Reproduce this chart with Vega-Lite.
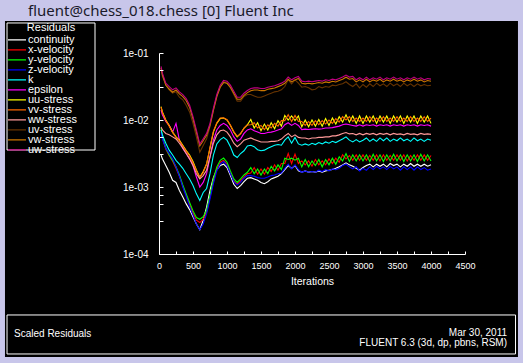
{
"$schema":"https://vega.github.io/schema/vega-lite/v6.json",
"width":306,"height":201,
"autosize":{"type":"none"},
"padding":{"left":159,"top":53,"right":58,"bottom":109},
"background":"#c8c6ea",
"resolve":{"axis":{"x":"independent","y":"independent"}},
"config":{
 "view":{"stroke":null},
 "axis":{"domainColor":"#ffffff","tickColor":"#ffffff","labelColor":"#ffffff","titleColor":"#ffffff","grid":false,"labelFont":"Liberation Sans","titleFont":"Liberation Sans","titleFontWeight":"normal"},
 "text":{"font":"Liberation Sans","color":"#ffffff"}
},
"data":{"values":[
{"s":"continuity","i":30,"r":0.0030},{"s":"continuity","i":50,"r":0.00263},{"s":"continuity","i":100,"r":0.00209},{"s":"continuity","i":150,"r":0.00166},{"s":"continuity","i":200,"r":0.00126},{"s":"continuity","i":250,"r":0.00117},{"s":"continuity","i":300,"r":0.00089},{"s":"continuity","i":350,"r":0.00071},{"s":"continuity","i":400,"r":0.00056},{"s":"continuity","i":450,"r":0.00046},{"s":"continuity","i":500,"r":0.00036},{"s":"continuity","i":550,"r":0.00028},{"s":"continuity","i":600,"r":0.00023},{"s":"continuity","i":650,"r":0.00032},{"s":"continuity","i":700,"r":0.0005},{"s":"continuity","i":750,"r":0.00089},{"s":"continuity","i":800,"r":0.00138},{"s":"continuity","i":850,"r":0.00182},{"s":"continuity","i":900,"r":0.00209},{"s":"continuity","i":950,"r":0.00219},{"s":"continuity","i":1000,"r":0.00195},{"s":"continuity","i":1050,"r":0.00148},{"s":"continuity","i":1100,"r":0.0011},{"s":"continuity","i":1150,"r":0.00095},{"s":"continuity","i":1200,"r":0.00105},{"s":"continuity","i":1250,"r":0.0012},{"s":"continuity","i":1300,"r":0.00135},{"s":"continuity","i":1350,"r":0.00138},{"s":"continuity","i":1400,"r":0.00132},{"s":"continuity","i":1450,"r":0.00126},{"s":"continuity","i":1500,"r":0.00117},{"s":"continuity","i":1550,"r":0.00112},{"s":"continuity","i":1600,"r":0.0012},{"s":"continuity","i":1650,"r":0.00132},{"s":"continuity","i":1700,"r":0.00138},{"s":"continuity","i":1750,"r":0.00145},{"s":"continuity","i":1800,"r":0.00158},{"s":"continuity","i":1850,"r":0.00182},{"s":"continuity","i":1900,"r":0.00209},{"s":"continuity","i":1950,"r":0.0019},{"s":"continuity","i":2000,"r":0.00209},{"s":"continuity","i":2050,"r":0.00174},{"s":"continuity","i":2100,"r":0.00166},{"s":"continuity","i":2150,"r":0.00174},{"s":"continuity","i":2200,"r":0.00166},{"s":"continuity","i":2250,"r":0.0017},{"s":"continuity","i":2300,"r":0.00166},{"s":"continuity","i":2350,"r":0.00174},{"s":"continuity","i":2400,"r":0.00166},{"s":"continuity","i":2450,"r":0.00174},{"s":"continuity","i":2500,"r":0.00178},{"s":"continuity","i":2550,"r":0.00182},{"s":"continuity","i":2600,"r":0.0019},{"s":"continuity","i":2650,"r":0.002},{"s":"continuity","i":2700,"r":0.00214},{"s":"continuity","i":2750,"r":0.00229},{"s":"continuity","i":2800,"r":0.00214},{"s":"continuity","i":2850,"r":0.00204},{"s":"continuity","i":2900,"r":0.0019},{"s":"continuity","i":2950,"r":0.00178},{"s":"continuity","i":3000,"r":0.00195},{"s":"continuity","i":3050,"r":0.00209},{"s":"continuity","i":3100,"r":0.00219},{"s":"continuity","i":3150,"r":0.002},{"s":"continuity","i":3200,"r":0.00219},{"s":"continuity","i":3250,"r":0.00204},{"s":"continuity","i":3300,"r":0.00219},{"s":"continuity","i":3350,"r":0.002},{"s":"continuity","i":3400,"r":0.00224},{"s":"continuity","i":3450,"r":0.00209},{"s":"continuity","i":3500,"r":0.00219},{"s":"continuity","i":3550,"r":0.002},{"s":"continuity","i":3600,"r":0.00219},{"s":"continuity","i":3650,"r":0.00204},{"s":"continuity","i":3700,"r":0.00224},{"s":"continuity","i":3750,"r":0.00204},{"s":"continuity","i":3800,"r":0.00219},{"s":"continuity","i":3850,"r":0.00204},{"s":"continuity","i":3900,"r":0.00219},{"s":"continuity","i":3950,"r":0.00204},{"s":"continuity","i":4000,"r":0.00214},
{"s":"x-velocity","i":30,"r":0.0071},{"s":"x-velocity","i":50,"r":0.0054},{"s":"x-velocity","i":100,"r":0.0037},{"s":"x-velocity","i":150,"r":0.00295},{"s":"x-velocity","i":200,"r":0.00245},{"s":"x-velocity","i":250,"r":0.0019},{"s":"x-velocity","i":300,"r":0.00145},{"s":"x-velocity","i":350,"r":0.00102},{"s":"x-velocity","i":400,"r":0.00076},{"s":"x-velocity","i":450,"r":0.00055},{"s":"x-velocity","i":500,"r":0.00041},{"s":"x-velocity","i":550,"r":0.00032},{"s":"x-velocity","i":600,"r":0.000295},{"s":"x-velocity","i":650,"r":0.00033},{"s":"x-velocity","i":700,"r":0.00042},{"s":"x-velocity","i":750,"r":0.00071},{"s":"x-velocity","i":800,"r":0.00123},{"s":"x-velocity","i":850,"r":0.00186},{"s":"x-velocity","i":900,"r":0.00234},{"s":"x-velocity","i":950,"r":0.0025},{"s":"x-velocity","i":1000,"r":0.00219},{"s":"x-velocity","i":1050,"r":0.00162},{"s":"x-velocity","i":1100,"r":0.00123},{"s":"x-velocity","i":1150,"r":0.0011},{"s":"x-velocity","i":1200,"r":0.00123},{"s":"x-velocity","i":1250,"r":0.00141},{"s":"x-velocity","i":1300,"r":0.00158},{"s":"x-velocity","i":1350,"r":0.00162},{"s":"x-velocity","i":1400,"r":0.00195},{"s":"x-velocity","i":1450,"r":0.00155},{"s":"x-velocity","i":1500,"r":0.00186},{"s":"x-velocity","i":1550,"r":0.00155},{"s":"x-velocity","i":1600,"r":0.00195},{"s":"x-velocity","i":1650,"r":0.0017},{"s":"x-velocity","i":1700,"r":0.00214},{"s":"x-velocity","i":1750,"r":0.00178},{"s":"x-velocity","i":1800,"r":0.00224},{"s":"x-velocity","i":1850,"r":0.00224},{"s":"x-velocity","i":1900,"r":0.00316},{"s":"x-velocity","i":1950,"r":0.00224},{"s":"x-velocity","i":2000,"r":0.0031},{"s":"x-velocity","i":2050,"r":0.00224},{"s":"x-velocity","i":2100,"r":0.00245},{"s":"x-velocity","i":2150,"r":0.00214},{"s":"x-velocity","i":2200,"r":0.00245},{"s":"x-velocity","i":2250,"r":0.00204},{"s":"x-velocity","i":2300,"r":0.00257},{"s":"x-velocity","i":2350,"r":0.00214},{"s":"x-velocity","i":2400,"r":0.00245},{"s":"x-velocity","i":2450,"r":0.00214},{"s":"x-velocity","i":2500,"r":0.00263},{"s":"x-velocity","i":2550,"r":0.00224},{"s":"x-velocity","i":2600,"r":0.00269},{"s":"x-velocity","i":2650,"r":0.00234},{"s":"x-velocity","i":2700,"r":0.00302},{"s":"x-velocity","i":2750,"r":0.00263},{"s":"x-velocity","i":2800,"r":0.00295},{"s":"x-velocity","i":2850,"r":0.00251},{"s":"x-velocity","i":2900,"r":0.00302},{"s":"x-velocity","i":2950,"r":0.00251},{"s":"x-velocity","i":3000,"r":0.00302},{"s":"x-velocity","i":3050,"r":0.00251},{"s":"x-velocity","i":3100,"r":0.00295},{"s":"x-velocity","i":3150,"r":0.00251},{"s":"x-velocity","i":3200,"r":0.00302},{"s":"x-velocity","i":3250,"r":0.00245},{"s":"x-velocity","i":3300,"r":0.00302},{"s":"x-velocity","i":3350,"r":0.00251},{"s":"x-velocity","i":3400,"r":0.00295},{"s":"x-velocity","i":3450,"r":0.00251},{"s":"x-velocity","i":3500,"r":0.00302},{"s":"x-velocity","i":3550,"r":0.00251},{"s":"x-velocity","i":3600,"r":0.00302},{"s":"x-velocity","i":3650,"r":0.00245},{"s":"x-velocity","i":3700,"r":0.00295},{"s":"x-velocity","i":3750,"r":0.00251},{"s":"x-velocity","i":3800,"r":0.00302},{"s":"x-velocity","i":3850,"r":0.00251},{"s":"x-velocity","i":3900,"r":0.00302},{"s":"x-velocity","i":3950,"r":0.00251},{"s":"x-velocity","i":4000,"r":0.00295},
{"s":"y-velocity","i":30,"r":0.0076},{"s":"y-velocity","i":50,"r":0.0056},{"s":"y-velocity","i":100,"r":0.0038},{"s":"y-velocity","i":150,"r":0.0030},{"s":"y-velocity","i":200,"r":0.0025},{"s":"y-velocity","i":250,"r":0.0020},{"s":"y-velocity","i":300,"r":0.00151},{"s":"y-velocity","i":350,"r":0.00107},{"s":"y-velocity","i":400,"r":0.00079},{"s":"y-velocity","i":450,"r":0.00059},{"s":"y-velocity","i":500,"r":0.00044},{"s":"y-velocity","i":550,"r":0.00035},{"s":"y-velocity","i":600,"r":0.00033},{"s":"y-velocity","i":650,"r":0.00036},{"s":"y-velocity","i":700,"r":0.00045},{"s":"y-velocity","i":750,"r":0.00076},{"s":"y-velocity","i":800,"r":0.00132},{"s":"y-velocity","i":850,"r":0.0020},{"s":"y-velocity","i":900,"r":0.0025},{"s":"y-velocity","i":950,"r":0.0027},{"s":"y-velocity","i":1000,"r":0.00234},{"s":"y-velocity","i":1050,"r":0.00174},{"s":"y-velocity","i":1100,"r":0.00132},{"s":"y-velocity","i":1150,"r":0.00117},{"s":"y-velocity","i":1200,"r":0.00132},{"s":"y-velocity","i":1250,"r":0.00151},{"s":"y-velocity","i":1300,"r":0.00166},{"s":"y-velocity","i":1350,"r":0.00195},{"s":"y-velocity","i":1400,"r":0.00158},{"s":"y-velocity","i":1450,"r":0.00186},{"s":"y-velocity","i":1500,"r":0.00151},{"s":"y-velocity","i":1550,"r":0.00186},{"s":"y-velocity","i":1600,"r":0.00158},{"s":"y-velocity","i":1650,"r":0.00204},{"s":"y-velocity","i":1700,"r":0.00174},{"s":"y-velocity","i":1750,"r":0.00214},{"s":"y-velocity","i":1800,"r":0.00182},{"s":"y-velocity","i":1850,"r":0.00269},{"s":"y-velocity","i":1900,"r":0.00257},{"s":"y-velocity","i":1950,"r":0.00269},{"s":"y-velocity","i":2000,"r":0.00251},{"s":"y-velocity","i":2050,"r":0.00269},{"s":"y-velocity","i":2100,"r":0.0020},{"s":"y-velocity","i":2150,"r":0.00257},{"s":"y-velocity","i":2200,"r":0.0020},{"s":"y-velocity","i":2250,"r":0.00245},{"s":"y-velocity","i":2300,"r":0.00209},{"s":"y-velocity","i":2350,"r":0.00257},{"s":"y-velocity","i":2400,"r":0.0020},{"s":"y-velocity","i":2450,"r":0.00257},{"s":"y-velocity","i":2500,"r":0.00214},{"s":"y-velocity","i":2550,"r":0.00269},{"s":"y-velocity","i":2600,"r":0.00219},{"s":"y-velocity","i":2650,"r":0.00282},{"s":"y-velocity","i":2700,"r":0.00245},{"s":"y-velocity","i":2750,"r":0.00316},{"s":"y-velocity","i":2800,"r":0.0024},{"s":"y-velocity","i":2850,"r":0.00302},{"s":"y-velocity","i":2900,"r":0.00245},{"s":"y-velocity","i":2950,"r":0.00302},{"s":"y-velocity","i":3000,"r":0.00245},{"s":"y-velocity","i":3050,"r":0.00302},{"s":"y-velocity","i":3100,"r":0.0024},{"s":"y-velocity","i":3150,"r":0.00309},{"s":"y-velocity","i":3200,"r":0.00245},{"s":"y-velocity","i":3250,"r":0.00302},{"s":"y-velocity","i":3300,"r":0.0024},{"s":"y-velocity","i":3350,"r":0.00302},{"s":"y-velocity","i":3400,"r":0.00245},{"s":"y-velocity","i":3450,"r":0.00309},{"s":"y-velocity","i":3500,"r":0.00245},{"s":"y-velocity","i":3550,"r":0.00302},{"s":"y-velocity","i":3600,"r":0.0024},{"s":"y-velocity","i":3650,"r":0.00302},{"s":"y-velocity","i":3700,"r":0.00245},{"s":"y-velocity","i":3750,"r":0.00302},{"s":"y-velocity","i":3800,"r":0.0024},{"s":"y-velocity","i":3850,"r":0.00309},{"s":"y-velocity","i":3900,"r":0.00245},{"s":"y-velocity","i":3950,"r":0.00302},{"s":"y-velocity","i":4000,"r":0.00245},
{"s":"z-velocity","i":30,"r":0.0066},{"s":"z-velocity","i":50,"r":0.0052},{"s":"z-velocity","i":100,"r":0.0038},{"s":"z-velocity","i":150,"r":0.00316},{"s":"z-velocity","i":200,"r":0.00263},{"s":"z-velocity","i":250,"r":0.0020},{"s":"z-velocity","i":300,"r":0.00145},{"s":"z-velocity","i":350,"r":0.0010},{"s":"z-velocity","i":400,"r":0.00072},{"s":"z-velocity","i":450,"r":0.00051},{"s":"z-velocity","i":500,"r":0.00038},{"s":"z-velocity","i":550,"r":0.00028},{"s":"z-velocity","i":600,"r":0.00023},{"s":"z-velocity","i":650,"r":0.00028},{"s":"z-velocity","i":700,"r":0.0004},{"s":"z-velocity","i":750,"r":0.00066},{"s":"z-velocity","i":800,"r":0.00112},{"s":"z-velocity","i":850,"r":0.00174},{"s":"z-velocity","i":900,"r":0.00219},{"s":"z-velocity","i":950,"r":0.0024},{"s":"z-velocity","i":1000,"r":0.00209},{"s":"z-velocity","i":1050,"r":0.00158},{"s":"z-velocity","i":1100,"r":0.0012},{"s":"z-velocity","i":1150,"r":0.00107},{"s":"z-velocity","i":1200,"r":0.00117},{"s":"z-velocity","i":1250,"r":0.00135},{"s":"z-velocity","i":1300,"r":0.00148},{"s":"z-velocity","i":1350,"r":0.00148},{"s":"z-velocity","i":1400,"r":0.00145},{"s":"z-velocity","i":1450,"r":0.00138},{"s":"z-velocity","i":1500,"r":0.00135},{"s":"z-velocity","i":1550,"r":0.00135},{"s":"z-velocity","i":1600,"r":0.00141},{"s":"z-velocity","i":1650,"r":0.00148},{"s":"z-velocity","i":1700,"r":0.00151},{"s":"z-velocity","i":1750,"r":0.00158},{"s":"z-velocity","i":1800,"r":0.00162},{"s":"z-velocity","i":1850,"r":0.0019},{"s":"z-velocity","i":1900,"r":0.00219},{"s":"z-velocity","i":1950,"r":0.00186},{"s":"z-velocity","i":2000,"r":0.00214},{"s":"z-velocity","i":2050,"r":0.00182},{"s":"z-velocity","i":2100,"r":0.00166},{"s":"z-velocity","i":2150,"r":0.00174},{"s":"z-velocity","i":2200,"r":0.00166},{"s":"z-velocity","i":2250,"r":0.0017},{"s":"z-velocity","i":2300,"r":0.00166},{"s":"z-velocity","i":2350,"r":0.00178},{"s":"z-velocity","i":2400,"r":0.0017},{"s":"z-velocity","i":2450,"r":0.00182},{"s":"z-velocity","i":2500,"r":0.00174},{"s":"z-velocity","i":2550,"r":0.00186},{"s":"z-velocity","i":2600,"r":0.00182},{"s":"z-velocity","i":2650,"r":0.0019},{"s":"z-velocity","i":2700,"r":0.00209},{"s":"z-velocity","i":2750,"r":0.00219},{"s":"z-velocity","i":2800,"r":0.0020},{"s":"z-velocity","i":2850,"r":0.00186},{"s":"z-velocity","i":2900,"r":0.0020},{"s":"z-velocity","i":2950,"r":0.00174},{"s":"z-velocity","i":3000,"r":0.0019},{"s":"z-velocity","i":3050,"r":0.00178},{"s":"z-velocity","i":3100,"r":0.0020},{"s":"z-velocity","i":3150,"r":0.00182},{"s":"z-velocity","i":3200,"r":0.00204},{"s":"z-velocity","i":3250,"r":0.00186},{"s":"z-velocity","i":3300,"r":0.0020},{"s":"z-velocity","i":3350,"r":0.00182},{"s":"z-velocity","i":3400,"r":0.00204},{"s":"z-velocity","i":3450,"r":0.00186},{"s":"z-velocity","i":3500,"r":0.0020},{"s":"z-velocity","i":3550,"r":0.00178},{"s":"z-velocity","i":3600,"r":0.0020},{"s":"z-velocity","i":3650,"r":0.00182},{"s":"z-velocity","i":3700,"r":0.0020},{"s":"z-velocity","i":3750,"r":0.00178},{"s":"z-velocity","i":3800,"r":0.0020},{"s":"z-velocity","i":3850,"r":0.00182},{"s":"z-velocity","i":3900,"r":0.00195},{"s":"z-velocity","i":3950,"r":0.00178},{"s":"z-velocity","i":4000,"r":0.00186},
{"s":"k","i":30,"r":0.0071},{"s":"k","i":50,"r":0.0060},{"s":"k","i":100,"r":0.0045},{"s":"k","i":150,"r":0.00355},{"s":"k","i":200,"r":0.0030},{"s":"k","i":250,"r":0.0025},{"s":"k","i":300,"r":0.0022},{"s":"k","i":350,"r":0.0019},{"s":"k","i":400,"r":0.00158},{"s":"k","i":450,"r":0.00132},{"s":"k","i":500,"r":0.00105},{"s":"k","i":550,"r":0.00079},{"s":"k","i":600,"r":0.00063},{"s":"k","i":650,"r":0.00083},{"s":"k","i":700,"r":0.00095},{"s":"k","i":750,"r":0.00158},{"s":"k","i":800,"r":0.0030},{"s":"k","i":850,"r":0.0044},{"s":"k","i":900,"r":0.0051},{"s":"k","i":950,"r":0.0055},{"s":"k","i":1000,"r":0.0050},{"s":"k","i":1050,"r":0.0040},{"s":"k","i":1100,"r":0.0030},{"s":"k","i":1150,"r":0.00275},{"s":"k","i":1200,"r":0.00316},{"s":"k","i":1250,"r":0.00347},{"s":"k","i":1300,"r":0.0041},{"s":"k","i":1350,"r":0.0042},{"s":"k","i":1400,"r":0.0040},{"s":"k","i":1450,"r":0.0036},{"s":"k","i":1500,"r":0.00347},{"s":"k","i":1550,"r":0.00355},{"s":"k","i":1600,"r":0.0038},{"s":"k","i":1650,"r":0.0040},{"s":"k","i":1700,"r":0.0042},{"s":"k","i":1750,"r":0.0043},{"s":"k","i":1800,"r":0.0042},{"s":"k","i":1850,"r":0.0050},{"s":"k","i":1900,"r":0.0056},{"s":"k","i":1950,"r":0.0045},{"s":"k","i":2000,"r":0.0055},{"s":"k","i":2050,"r":0.0044},{"s":"k","i":2100,"r":0.0042},{"s":"k","i":2150,"r":0.0044},{"s":"k","i":2200,"r":0.0042},{"s":"k","i":2250,"r":0.0045},{"s":"k","i":2300,"r":0.0043},{"s":"k","i":2350,"r":0.0046},{"s":"k","i":2400,"r":0.0044},{"s":"k","i":2450,"r":0.0047},{"s":"k","i":2500,"r":0.0045},{"s":"k","i":2550,"r":0.0048},{"s":"k","i":2600,"r":0.0046},{"s":"k","i":2650,"r":0.0049},{"s":"k","i":2700,"r":0.0052},{"s":"k","i":2750,"r":0.0056},{"s":"k","i":2800,"r":0.0050},{"s":"k","i":2850,"r":0.0047},{"s":"k","i":2900,"r":0.0051},{"s":"k","i":2950,"r":0.0047},{"s":"k","i":3000,"r":0.0050},{"s":"k","i":3050,"r":0.0054},{"s":"k","i":3100,"r":0.0048},{"s":"k","i":3150,"r":0.0052},{"s":"k","i":3200,"r":0.0048},{"s":"k","i":3250,"r":0.0054},{"s":"k","i":3300,"r":0.0049},{"s":"k","i":3350,"r":0.0054},{"s":"k","i":3400,"r":0.0048},{"s":"k","i":3450,"r":0.0052},{"s":"k","i":3500,"r":0.0049},{"s":"k","i":3550,"r":0.0054},{"s":"k","i":3600,"r":0.0049},{"s":"k","i":3650,"r":0.0052},{"s":"k","i":3700,"r":0.0048},{"s":"k","i":3750,"r":0.0054},{"s":"k","i":3800,"r":0.0049},{"s":"k","i":3850,"r":0.0052},{"s":"k","i":3900,"r":0.0048},{"s":"k","i":3950,"r":0.0052},{"s":"k","i":4000,"r":0.0050},
{"s":"epsilon","i":30,"r":0.0141},{"s":"epsilon","i":50,"r":0.0120},{"s":"epsilon","i":100,"r":0.0095},{"s":"epsilon","i":150,"r":0.0083},{"s":"epsilon","i":200,"r":0.0066},{"s":"epsilon","i":250,"r":0.0089},{"s":"epsilon","i":300,"r":0.0050},{"s":"epsilon","i":350,"r":0.0038},{"s":"epsilon","i":400,"r":0.00316},{"s":"epsilon","i":450,"r":0.00263},{"s":"epsilon","i":500,"r":0.00209},{"s":"epsilon","i":550,"r":0.00141},{"s":"epsilon","i":600,"r":0.0010},{"s":"epsilon","i":650,"r":0.00117},{"s":"epsilon","i":700,"r":0.00158},{"s":"epsilon","i":750,"r":0.00282},{"s":"epsilon","i":800,"r":0.0050},{"s":"epsilon","i":850,"r":0.0071},{"s":"epsilon","i":900,"r":0.0083},{"s":"epsilon","i":950,"r":0.0089},{"s":"epsilon","i":1000,"r":0.0083},{"s":"epsilon","i":1050,"r":0.0071},{"s":"epsilon","i":1100,"r":0.0056},{"s":"epsilon","i":1150,"r":0.0048},{"s":"epsilon","i":1200,"r":0.0052},{"s":"epsilon","i":1250,"r":0.0063},{"s":"epsilon","i":1300,"r":0.0071},{"s":"epsilon","i":1350,"r":0.0074},{"s":"epsilon","i":1400,"r":0.0069},{"s":"epsilon","i":1450,"r":0.0066},{"s":"epsilon","i":1500,"r":0.0063},{"s":"epsilon","i":1550,"r":0.0063},{"s":"epsilon","i":1600,"r":0.0065},{"s":"epsilon","i":1650,"r":0.0066},{"s":"epsilon","i":1700,"r":0.0068},{"s":"epsilon","i":1750,"r":0.0071},{"s":"epsilon","i":1800,"r":0.0074},{"s":"epsilon","i":1850,"r":0.0085},{"s":"epsilon","i":1900,"r":0.0091},{"s":"epsilon","i":1950,"r":0.0083},{"s":"epsilon","i":2000,"r":0.0089},{"s":"epsilon","i":2050,"r":0.0083},{"s":"epsilon","i":2100,"r":0.0072},{"s":"epsilon","i":2150,"r":0.0073},{"s":"epsilon","i":2200,"r":0.0072},{"s":"epsilon","i":2250,"r":0.0073},{"s":"epsilon","i":2300,"r":0.0074},{"s":"epsilon","i":2350,"r":0.0073},{"s":"epsilon","i":2400,"r":0.0074},{"s":"epsilon","i":2450,"r":0.0076},{"s":"epsilon","i":2500,"r":0.0076},{"s":"epsilon","i":2550,"r":0.0077},{"s":"epsilon","i":2600,"r":0.0079},{"s":"epsilon","i":2650,"r":0.0081},{"s":"epsilon","i":2700,"r":0.0085},{"s":"epsilon","i":2750,"r":0.0087},{"s":"epsilon","i":2800,"r":0.0085},{"s":"epsilon","i":2850,"r":0.0083},{"s":"epsilon","i":2900,"r":0.0081},{"s":"epsilon","i":2950,"r":0.0085},{"s":"epsilon","i":3000,"r":0.0081},{"s":"epsilon","i":3050,"r":0.0085},{"s":"epsilon","i":3100,"r":0.0083},{"s":"epsilon","i":3150,"r":0.0085},{"s":"epsilon","i":3200,"r":0.0081},{"s":"epsilon","i":3250,"r":0.0085},{"s":"epsilon","i":3300,"r":0.0083},{"s":"epsilon","i":3350,"r":0.0085},{"s":"epsilon","i":3400,"r":0.0081},{"s":"epsilon","i":3450,"r":0.0085},{"s":"epsilon","i":3500,"r":0.0083},{"s":"epsilon","i":3550,"r":0.0085},{"s":"epsilon","i":3600,"r":0.0081},{"s":"epsilon","i":3650,"r":0.0085},{"s":"epsilon","i":3700,"r":0.0083},{"s":"epsilon","i":3750,"r":0.0085},{"s":"epsilon","i":3800,"r":0.0081},{"s":"epsilon","i":3850,"r":0.0085},{"s":"epsilon","i":3900,"r":0.0083},{"s":"epsilon","i":3950,"r":0.0085},{"s":"epsilon","i":4000,"r":0.0081},
{"s":"uu-stress","i":30,"r":0.0158},{"s":"uu-stress","i":50,"r":0.0132},{"s":"uu-stress","i":100,"r":0.0100},{"s":"uu-stress","i":150,"r":0.0083},{"s":"uu-stress","i":200,"r":0.0066},{"s":"uu-stress","i":250,"r":0.0056},{"s":"uu-stress","i":300,"r":0.0050},{"s":"uu-stress","i":350,"r":0.0042},{"s":"uu-stress","i":400,"r":0.0035},{"s":"uu-stress","i":450,"r":0.0030},{"s":"uu-stress","i":500,"r":0.0024},{"s":"uu-stress","i":550,"r":0.0018},{"s":"uu-stress","i":600,"r":0.0014},{"s":"uu-stress","i":650,"r":0.0017},{"s":"uu-stress","i":700,"r":0.0022},{"s":"uu-stress","i":750,"r":0.0038},{"s":"uu-stress","i":800,"r":0.0066},{"s":"uu-stress","i":850,"r":0.0089},{"s":"uu-stress","i":900,"r":0.0105},{"s":"uu-stress","i":950,"r":0.0107},{"s":"uu-stress","i":1000,"r":0.0100},{"s":"uu-stress","i":1050,"r":0.0083},{"s":"uu-stress","i":1100,"r":0.0066},{"s":"uu-stress","i":1150,"r":0.0056},{"s":"uu-stress","i":1200,"r":0.0063},{"s":"uu-stress","i":1250,"r":0.0076},{"s":"uu-stress","i":1300,"r":0.0085},{"s":"uu-stress","i":1350,"r":0.0102},{"s":"uu-stress","i":1400,"r":0.0076},{"s":"uu-stress","i":1450,"r":0.0091},{"s":"uu-stress","i":1500,"r":0.0069},{"s":"uu-stress","i":1550,"r":0.0087},{"s":"uu-stress","i":1600,"r":0.0071},{"s":"uu-stress","i":1650,"r":0.0091},{"s":"uu-stress","i":1700,"r":0.0074},{"s":"uu-stress","i":1750,"r":0.0098},{"s":"uu-stress","i":1800,"r":0.0081},{"s":"uu-stress","i":1850,"r":0.0117},{"s":"uu-stress","i":1900,"r":0.0100},{"s":"uu-stress","i":1950,"r":0.0115},{"s":"uu-stress","i":2000,"r":0.0098},{"s":"uu-stress","i":2050,"r":0.0115},{"s":"uu-stress","i":2100,"r":0.0079},{"s":"uu-stress","i":2150,"r":0.0100},{"s":"uu-stress","i":2200,"r":0.0079},{"s":"uu-stress","i":2250,"r":0.0100},{"s":"uu-stress","i":2300,"r":0.0081},{"s":"uu-stress","i":2350,"r":0.0102},{"s":"uu-stress","i":2400,"r":0.0081},{"s":"uu-stress","i":2450,"r":0.0105},{"s":"uu-stress","i":2500,"r":0.0083},{"s":"uu-stress","i":2550,"r":0.0107},{"s":"uu-stress","i":2600,"r":0.0087},{"s":"uu-stress","i":2650,"r":0.0112},{"s":"uu-stress","i":2700,"r":0.0093},{"s":"uu-stress","i":2750,"r":0.0120},{"s":"uu-stress","i":2800,"r":0.0093},{"s":"uu-stress","i":2850,"r":0.0115},{"s":"uu-stress","i":2900,"r":0.0089},{"s":"uu-stress","i":2950,"r":0.0115},{"s":"uu-stress","i":3000,"r":0.0089},{"s":"uu-stress","i":3050,"r":0.0115},{"s":"uu-stress","i":3100,"r":0.0093},{"s":"uu-stress","i":3150,"r":0.0115},{"s":"uu-stress","i":3200,"r":0.0089},{"s":"uu-stress","i":3250,"r":0.0115},{"s":"uu-stress","i":3300,"r":0.0093},{"s":"uu-stress","i":3350,"r":0.0115},{"s":"uu-stress","i":3400,"r":0.0089},{"s":"uu-stress","i":3450,"r":0.0115},{"s":"uu-stress","i":3500,"r":0.0093},{"s":"uu-stress","i":3550,"r":0.0115},{"s":"uu-stress","i":3600,"r":0.0089},{"s":"uu-stress","i":3650,"r":0.0115},{"s":"uu-stress","i":3700,"r":0.0093},{"s":"uu-stress","i":3750,"r":0.0115},{"s":"uu-stress","i":3800,"r":0.0089},{"s":"uu-stress","i":3850,"r":0.0115},{"s":"uu-stress","i":3900,"r":0.0093},{"s":"uu-stress","i":3950,"r":0.0115},{"s":"uu-stress","i":4000,"r":0.0089},
{"s":"vv-stress","i":30,"r":0.0155},{"s":"vv-stress","i":50,"r":0.0129},{"s":"vv-stress","i":100,"r":0.0098},{"s":"vv-stress","i":150,"r":0.0081},{"s":"vv-stress","i":200,"r":0.0065},{"s":"vv-stress","i":250,"r":0.0055},{"s":"vv-stress","i":300,"r":0.0049},{"s":"vv-stress","i":350,"r":0.0041},{"s":"vv-stress","i":400,"r":0.0034},{"s":"vv-stress","i":450,"r":0.0029},{"s":"vv-stress","i":500,"r":0.0023},{"s":"vv-stress","i":550,"r":0.00175},{"s":"vv-stress","i":600,"r":0.00138},{"s":"vv-stress","i":650,"r":0.00165},{"s":"vv-stress","i":700,"r":0.0022},{"s":"vv-stress","i":750,"r":0.0039},{"s":"vv-stress","i":800,"r":0.0068},{"s":"vv-stress","i":850,"r":0.0091},{"s":"vv-stress","i":900,"r":0.0107},{"s":"vv-stress","i":950,"r":0.0108},{"s":"vv-stress","i":1000,"r":0.0101},{"s":"vv-stress","i":1050,"r":0.0084},{"s":"vv-stress","i":1100,"r":0.0067},{"s":"vv-stress","i":1150,"r":0.0057},{"s":"vv-stress","i":1200,"r":0.0062},{"s":"vv-stress","i":1250,"r":0.0075},{"s":"vv-stress","i":1300,"r":0.0084},{"s":"vv-stress","i":1350,"r":0.0085},{"s":"vv-stress","i":1400,"r":0.0091},{"s":"vv-stress","i":1450,"r":0.0076},{"s":"vv-stress","i":1500,"r":0.0083},{"s":"vv-stress","i":1550,"r":0.0072},{"s":"vv-stress","i":1600,"r":0.0085},{"s":"vv-stress","i":1650,"r":0.0076},{"s":"vv-stress","i":1700,"r":0.0089},{"s":"vv-stress","i":1750,"r":0.0081},{"s":"vv-stress","i":1800,"r":0.0098},{"s":"vv-stress","i":1850,"r":0.0098},{"s":"vv-stress","i":1900,"r":0.0120},{"s":"vv-stress","i":1950,"r":0.0095},{"s":"vv-stress","i":2000,"r":0.0117},{"s":"vv-stress","i":2050,"r":0.0095},{"s":"vv-stress","i":2100,"r":0.0095},{"s":"vv-stress","i":2150,"r":0.0083},{"s":"vv-stress","i":2200,"r":0.0095},{"s":"vv-stress","i":2250,"r":0.0083},{"s":"vv-stress","i":2300,"r":0.0098},{"s":"vv-stress","i":2350,"r":0.0085},{"s":"vv-stress","i":2400,"r":0.0098},{"s":"vv-stress","i":2450,"r":0.0087},{"s":"vv-stress","i":2500,"r":0.0100},{"s":"vv-stress","i":2550,"r":0.0089},{"s":"vv-stress","i":2600,"r":0.0105},{"s":"vv-stress","i":2650,"r":0.0093},{"s":"vv-stress","i":2700,"r":0.0112},{"s":"vv-stress","i":2750,"r":0.0100},{"s":"vv-stress","i":2800,"r":0.0112},{"s":"vv-stress","i":2850,"r":0.0095},{"s":"vv-stress","i":2900,"r":0.0107},{"s":"vv-stress","i":2950,"r":0.0095},{"s":"vv-stress","i":3000,"r":0.0107},{"s":"vv-stress","i":3050,"r":0.0095},{"s":"vv-stress","i":3100,"r":0.0112},{"s":"vv-stress","i":3150,"r":0.0095},{"s":"vv-stress","i":3200,"r":0.0107},{"s":"vv-stress","i":3250,"r":0.0095},{"s":"vv-stress","i":3300,"r":0.0112},{"s":"vv-stress","i":3350,"r":0.0095},{"s":"vv-stress","i":3400,"r":0.0107},{"s":"vv-stress","i":3450,"r":0.0095},{"s":"vv-stress","i":3500,"r":0.0112},{"s":"vv-stress","i":3550,"r":0.0095},{"s":"vv-stress","i":3600,"r":0.0107},{"s":"vv-stress","i":3650,"r":0.0095},{"s":"vv-stress","i":3700,"r":0.0112},{"s":"vv-stress","i":3750,"r":0.0095},{"s":"vv-stress","i":3800,"r":0.0107},{"s":"vv-stress","i":3850,"r":0.0095},{"s":"vv-stress","i":3900,"r":0.0112},{"s":"vv-stress","i":3950,"r":0.0095},{"s":"vv-stress","i":4000,"r":0.0107},
{"s":"ww-stress","i":30,"r":0.0079},{"s":"ww-stress","i":50,"r":0.0071},{"s":"ww-stress","i":100,"r":0.0063},{"s":"ww-stress","i":150,"r":0.0060},{"s":"ww-stress","i":200,"r":0.0056},{"s":"ww-stress","i":250,"r":0.0052},{"s":"ww-stress","i":300,"r":0.0045},{"s":"ww-stress","i":350,"r":0.0038},{"s":"ww-stress","i":400,"r":0.00316},{"s":"ww-stress","i":450,"r":0.00263},{"s":"ww-stress","i":500,"r":0.00209},{"s":"ww-stress","i":550,"r":0.00158},{"s":"ww-stress","i":600,"r":0.00132},{"s":"ww-stress","i":650,"r":0.00148},{"s":"ww-stress","i":700,"r":0.00178},{"s":"ww-stress","i":750,"r":0.00282},{"s":"ww-stress","i":800,"r":0.0045},{"s":"ww-stress","i":850,"r":0.0060},{"s":"ww-stress","i":900,"r":0.0069},{"s":"ww-stress","i":950,"r":0.0071},{"s":"ww-stress","i":1000,"r":0.0066},{"s":"ww-stress","i":1050,"r":0.0056},{"s":"ww-stress","i":1100,"r":0.0045},{"s":"ww-stress","i":1150,"r":0.0040},{"s":"ww-stress","i":1200,"r":0.0044},{"s":"ww-stress","i":1250,"r":0.0050},{"s":"ww-stress","i":1300,"r":0.0052},{"s":"ww-stress","i":1350,"r":0.0054},{"s":"ww-stress","i":1400,"r":0.0051},{"s":"ww-stress","i":1450,"r":0.0049},{"s":"ww-stress","i":1500,"r":0.0047},{"s":"ww-stress","i":1550,"r":0.0047},{"s":"ww-stress","i":1600,"r":0.0047},{"s":"ww-stress","i":1650,"r":0.0048},{"s":"ww-stress","i":1700,"r":0.0048},{"s":"ww-stress","i":1750,"r":0.0049},{"s":"ww-stress","i":1800,"r":0.0052},{"s":"ww-stress","i":1850,"r":0.0058},{"s":"ww-stress","i":1900,"r":0.0063},{"s":"ww-stress","i":1950,"r":0.0056},{"s":"ww-stress","i":2000,"r":0.0060},{"s":"ww-stress","i":2050,"r":0.0055},{"s":"ww-stress","i":2100,"r":0.0054},{"s":"ww-stress","i":2150,"r":0.0054},{"s":"ww-stress","i":2200,"r":0.0052},{"s":"ww-stress","i":2250,"r":0.0054},{"s":"ww-stress","i":2300,"r":0.0054},{"s":"ww-stress","i":2350,"r":0.0055},{"s":"ww-stress","i":2400,"r":0.0055},{"s":"ww-stress","i":2450,"r":0.0056},{"s":"ww-stress","i":2500,"r":0.0056},{"s":"ww-stress","i":2550,"r":0.0058},{"s":"ww-stress","i":2600,"r":0.0058},{"s":"ww-stress","i":2650,"r":0.0060},{"s":"ww-stress","i":2700,"r":0.0063},{"s":"ww-stress","i":2750,"r":0.0065},{"s":"ww-stress","i":2800,"r":0.0062},{"s":"ww-stress","i":2850,"r":0.0063},{"s":"ww-stress","i":2900,"r":0.0060},{"s":"ww-stress","i":2950,"r":0.0063},{"s":"ww-stress","i":3000,"r":0.0060},{"s":"ww-stress","i":3050,"r":0.0063},{"s":"ww-stress","i":3100,"r":0.0061},{"s":"ww-stress","i":3150,"r":0.0063},{"s":"ww-stress","i":3200,"r":0.0060},{"s":"ww-stress","i":3250,"r":0.0063},{"s":"ww-stress","i":3300,"r":0.0061},{"s":"ww-stress","i":3350,"r":0.0063},{"s":"ww-stress","i":3400,"r":0.0060},{"s":"ww-stress","i":3450,"r":0.0063},{"s":"ww-stress","i":3500,"r":0.0061},{"s":"ww-stress","i":3550,"r":0.0062},{"s":"ww-stress","i":3600,"r":0.0060},{"s":"ww-stress","i":3650,"r":0.0063},{"s":"ww-stress","i":3700,"r":0.0061},{"s":"ww-stress","i":3750,"r":0.0062},{"s":"ww-stress","i":3800,"r":0.0060},{"s":"ww-stress","i":3850,"r":0.0063},{"s":"ww-stress","i":3900,"r":0.0061},{"s":"ww-stress","i":3950,"r":0.0062},{"s":"ww-stress","i":4000,"r":0.0061},
{"s":"uv-stress","i":30,"r":0.0603},{"s":"uv-stress","i":50,"r":0.0447},{"s":"uv-stress","i":100,"r":0.0339},{"s":"uv-stress","i":150,"r":0.0282},{"s":"uv-stress","i":200,"r":0.0251},{"s":"uv-stress","i":250,"r":0.0263},{"s":"uv-stress","i":300,"r":0.0219},{"s":"uv-stress","i":350,"r":0.0200},{"s":"uv-stress","i":400,"r":0.0166},{"s":"uv-stress","i":450,"r":0.0132},{"s":"uv-stress","i":500,"r":0.00891},{"s":"uv-stress","i":550,"r":0.00562},{"s":"uv-stress","i":600,"r":0.00331},{"s":"uv-stress","i":650,"r":0.00417},{"s":"uv-stress","i":700,"r":0.00525},{"s":"uv-stress","i":750,"r":0.00794},{"s":"uv-stress","i":800,"r":0.0138},{"s":"uv-stress","i":850,"r":0.0224},{"s":"uv-stress","i":900,"r":0.0316},{"s":"uv-stress","i":950,"r":0.0372},{"s":"uv-stress","i":1000,"r":0.0355},{"s":"uv-stress","i":1050,"r":0.0302},{"s":"uv-stress","i":1100,"r":0.0240},{"s":"uv-stress","i":1150,"r":0.0191},{"s":"uv-stress","i":1200,"r":0.0191},{"s":"uv-stress","i":1250,"r":0.0224},{"s":"uv-stress","i":1300,"r":0.0240},{"s":"uv-stress","i":1350,"r":0.0240},{"s":"uv-stress","i":1400,"r":0.0229},{"s":"uv-stress","i":1450,"r":0.0219},{"s":"uv-stress","i":1500,"r":0.0219},{"s":"uv-stress","i":1550,"r":0.0229},{"s":"uv-stress","i":1600,"r":0.0240},{"s":"uv-stress","i":1650,"r":0.0251},{"s":"uv-stress","i":1700,"r":0.0263},{"s":"uv-stress","i":1750,"r":0.0269},{"s":"uv-stress","i":1800,"r":0.0282},{"s":"uv-stress","i":1850,"r":0.0316},{"s":"uv-stress","i":1900,"r":0.0398},{"s":"uv-stress","i":1950,"r":0.0347},{"s":"uv-stress","i":2000,"r":0.0398},{"s":"uv-stress","i":2050,"r":0.0355},{"s":"uv-stress","i":2100,"r":0.0309},{"s":"uv-stress","i":2150,"r":0.0316},{"s":"uv-stress","i":2200,"r":0.0302},{"s":"uv-stress","i":2250,"r":0.0282},{"s":"uv-stress","i":2300,"r":0.0288},{"s":"uv-stress","i":2350,"r":0.0316},{"s":"uv-stress","i":2400,"r":0.0302},{"s":"uv-stress","i":2450,"r":0.0316},{"s":"uv-stress","i":2500,"r":0.0309},{"s":"uv-stress","i":2550,"r":0.0331},{"s":"uv-stress","i":2600,"r":0.0324},{"s":"uv-stress","i":2650,"r":0.0339},{"s":"uv-stress","i":2700,"r":0.0347},{"s":"uv-stress","i":2750,"r":0.0372},{"s":"uv-stress","i":2800,"r":0.0339},{"s":"uv-stress","i":2850,"r":0.0316},{"s":"uv-stress","i":2900,"r":0.0347},{"s":"uv-stress","i":2950,"r":0.0302},{"s":"uv-stress","i":3000,"r":0.0339},{"s":"uv-stress","i":3050,"r":0.0309},{"s":"uv-stress","i":3100,"r":0.0347},{"s":"uv-stress","i":3150,"r":0.0316},{"s":"uv-stress","i":3200,"r":0.0355},{"s":"uv-stress","i":3250,"r":0.0324},{"s":"uv-stress","i":3300,"r":0.0347},{"s":"uv-stress","i":3350,"r":0.0316},{"s":"uv-stress","i":3400,"r":0.0355},{"s":"uv-stress","i":3450,"r":0.0324},{"s":"uv-stress","i":3500,"r":0.0347},{"s":"uv-stress","i":3550,"r":0.0316},{"s":"uv-stress","i":3600,"r":0.0355},{"s":"uv-stress","i":3650,"r":0.0324},{"s":"uv-stress","i":3700,"r":0.0347},{"s":"uv-stress","i":3750,"r":0.0316},{"s":"uv-stress","i":3800,"r":0.0347},{"s":"uv-stress","i":3850,"r":0.0324},{"s":"uv-stress","i":3900,"r":0.0339},{"s":"uv-stress","i":3950,"r":0.0324},{"s":"uv-stress","i":4000,"r":0.0331},
{"s":"vw-stress","i":30,"r":0.060},{"s":"vw-stress","i":50,"r":0.047},{"s":"vw-stress","i":100,"r":0.033},{"s":"vw-stress","i":150,"r":0.029},{"s":"vw-stress","i":200,"r":0.026},{"s":"vw-stress","i":250,"r":0.028},{"s":"vw-stress","i":300,"r":0.0245},{"s":"vw-stress","i":350,"r":0.0223},{"s":"vw-stress","i":400,"r":0.0194},{"s":"vw-stress","i":450,"r":0.0154},{"s":"vw-stress","i":500,"r":0.0104},{"s":"vw-stress","i":550,"r":0.0066},{"s":"vw-stress","i":600,"r":0.0041},{"s":"vw-stress","i":650,"r":0.0049},{"s":"vw-stress","i":700,"r":0.0059},{"s":"vw-stress","i":750,"r":0.0083},{"s":"vw-stress","i":800,"r":0.0140},{"s":"vw-stress","i":850,"r":0.0223},{"s":"vw-stress","i":900,"r":0.0308},{"s":"vw-stress","i":950,"r":0.0362},{"s":"vw-stress","i":1000,"r":0.0353},{"s":"vw-stress","i":1050,"r":0.0308},{"s":"vw-stress","i":1100,"r":0.0250},{"s":"vw-stress","i":1150,"r":0.0204},{"s":"vw-stress","i":1200,"r":0.0204},{"s":"vw-stress","i":1250,"r":0.0233},{"s":"vw-stress","i":1300,"r":0.0256},{"s":"vw-stress","i":1350,"r":0.0274},{"s":"vw-stress","i":1400,"r":0.0281},{"s":"vw-stress","i":1450,"r":0.0281},{"s":"vw-stress","i":1500,"r":0.0274},{"s":"vw-stress","i":1550,"r":0.0274},{"s":"vw-stress","i":1600,"r":0.0287},{"s":"vw-stress","i":1650,"r":0.0294},{"s":"vw-stress","i":1700,"r":0.0301},{"s":"vw-stress","i":1750,"r":0.0315},{"s":"vw-stress","i":1800,"r":0.0330},{"s":"vw-stress","i":1850,"r":0.0353},{"s":"vw-stress","i":1900,"r":0.0406},{"s":"vw-stress","i":1950,"r":0.0370},{"s":"vw-stress","i":2000,"r":0.0397},{"s":"vw-stress","i":2050,"r":0.0416},{"s":"vw-stress","i":2100,"r":0.0353},{"s":"vw-stress","i":2150,"r":0.0346},{"s":"vw-stress","i":2200,"r":0.0353},{"s":"vw-stress","i":2250,"r":0.0346},{"s":"vw-stress","i":2300,"r":0.0353},{"s":"vw-stress","i":2350,"r":0.0362},{"s":"vw-stress","i":2400,"r":0.0353},{"s":"vw-stress","i":2450,"r":0.0370},{"s":"vw-stress","i":2500,"r":0.0362},{"s":"vw-stress","i":2550,"r":0.0379},{"s":"vw-stress","i":2600,"r":0.0370},{"s":"vw-stress","i":2650,"r":0.0388},{"s":"vw-stress","i":2700,"r":0.0406},{"s":"vw-stress","i":2750,"r":0.0435},{"s":"vw-stress","i":2800,"r":0.0406},{"s":"vw-stress","i":2850,"r":0.0416},{"s":"vw-stress","i":2900,"r":0.0370},{"s":"vw-stress","i":2950,"r":0.0397},{"s":"vw-stress","i":3000,"r":0.0370},{"s":"vw-stress","i":3050,"r":0.0406},{"s":"vw-stress","i":3100,"r":0.0370},{"s":"vw-stress","i":3150,"r":0.0397},{"s":"vw-stress","i":3200,"r":0.0379},{"s":"vw-stress","i":3250,"r":0.0406},{"s":"vw-stress","i":3300,"r":0.0370},{"s":"vw-stress","i":3350,"r":0.0397},{"s":"vw-stress","i":3400,"r":0.0379},{"s":"vw-stress","i":3450,"r":0.0406},{"s":"vw-stress","i":3500,"r":0.0379},{"s":"vw-stress","i":3550,"r":0.0397},{"s":"vw-stress","i":3600,"r":0.0370},{"s":"vw-stress","i":3650,"r":0.0397},{"s":"vw-stress","i":3700,"r":0.0379},{"s":"vw-stress","i":3750,"r":0.0406},{"s":"vw-stress","i":3800,"r":0.0379},{"s":"vw-stress","i":3850,"r":0.0397},{"s":"vw-stress","i":3900,"r":0.0370},{"s":"vw-stress","i":3950,"r":0.0388},{"s":"vw-stress","i":4000,"r":0.0379},
{"s":"uw-stress","i":30,"r":0.063},{"s":"uw-stress","i":50,"r":0.050},{"s":"uw-stress","i":100,"r":0.0355},{"s":"uw-stress","i":150,"r":0.0316},{"s":"uw-stress","i":200,"r":0.0282},{"s":"uw-stress","i":250,"r":0.0302},{"s":"uw-stress","i":300,"r":0.0263},{"s":"uw-stress","i":350,"r":0.0240},{"s":"uw-stress","i":400,"r":0.0209},{"s":"uw-stress","i":450,"r":0.0166},{"s":"uw-stress","i":500,"r":0.0112},{"s":"uw-stress","i":550,"r":0.00708},{"s":"uw-stress","i":600,"r":0.00437},{"s":"uw-stress","i":650,"r":0.00525},{"s":"uw-stress","i":700,"r":0.00631},{"s":"uw-stress","i":750,"r":0.00891},{"s":"uw-stress","i":800,"r":0.0151},{"s":"uw-stress","i":850,"r":0.0240},{"s":"uw-stress","i":900,"r":0.0331},{"s":"uw-stress","i":950,"r":0.0389},{"s":"uw-stress","i":1000,"r":0.0380},{"s":"uw-stress","i":1050,"r":0.0331},{"s":"uw-stress","i":1100,"r":0.0269},{"s":"uw-stress","i":1150,"r":0.0219},{"s":"uw-stress","i":1200,"r":0.0219},{"s":"uw-stress","i":1250,"r":0.0251},{"s":"uw-stress","i":1300,"r":0.0275},{"s":"uw-stress","i":1350,"r":0.0295},{"s":"uw-stress","i":1400,"r":0.0302},{"s":"uw-stress","i":1450,"r":0.0302},{"s":"uw-stress","i":1500,"r":0.0295},{"s":"uw-stress","i":1550,"r":0.0295},{"s":"uw-stress","i":1600,"r":0.0309},{"s":"uw-stress","i":1650,"r":0.0316},{"s":"uw-stress","i":1700,"r":0.0324},{"s":"uw-stress","i":1750,"r":0.0339},{"s":"uw-stress","i":1800,"r":0.0355},{"s":"uw-stress","i":1850,"r":0.0380},{"s":"uw-stress","i":1900,"r":0.0437},{"s":"uw-stress","i":1950,"r":0.0398},{"s":"uw-stress","i":2000,"r":0.0427},{"s":"uw-stress","i":2050,"r":0.0447},{"s":"uw-stress","i":2100,"r":0.0380},{"s":"uw-stress","i":2150,"r":0.0372},{"s":"uw-stress","i":2200,"r":0.0380},{"s":"uw-stress","i":2250,"r":0.0372},{"s":"uw-stress","i":2300,"r":0.0380},{"s":"uw-stress","i":2350,"r":0.0389},{"s":"uw-stress","i":2400,"r":0.0380},{"s":"uw-stress","i":2450,"r":0.0398},{"s":"uw-stress","i":2500,"r":0.0389},{"s":"uw-stress","i":2550,"r":0.0407},{"s":"uw-stress","i":2600,"r":0.0398},{"s":"uw-stress","i":2650,"r":0.0417},{"s":"uw-stress","i":2700,"r":0.0437},{"s":"uw-stress","i":2750,"r":0.0468},{"s":"uw-stress","i":2800,"r":0.0437},{"s":"uw-stress","i":2850,"r":0.0447},{"s":"uw-stress","i":2900,"r":0.0398},{"s":"uw-stress","i":2950,"r":0.0427},{"s":"uw-stress","i":3000,"r":0.0398},{"s":"uw-stress","i":3050,"r":0.0437},{"s":"uw-stress","i":3100,"r":0.0398},{"s":"uw-stress","i":3150,"r":0.0427},{"s":"uw-stress","i":3200,"r":0.0407},{"s":"uw-stress","i":3250,"r":0.0437},{"s":"uw-stress","i":3300,"r":0.0398},{"s":"uw-stress","i":3350,"r":0.0427},{"s":"uw-stress","i":3400,"r":0.0407},{"s":"uw-stress","i":3450,"r":0.0437},{"s":"uw-stress","i":3500,"r":0.0407},{"s":"uw-stress","i":3550,"r":0.0427},{"s":"uw-stress","i":3600,"r":0.0398},{"s":"uw-stress","i":3650,"r":0.0427},{"s":"uw-stress","i":3700,"r":0.0407},{"s":"uw-stress","i":3750,"r":0.0437},{"s":"uw-stress","i":3800,"r":0.0407},{"s":"uw-stress","i":3850,"r":0.0427},{"s":"uw-stress","i":3900,"r":0.0398},{"s":"uw-stress","i":3950,"r":0.0417},{"s":"uw-stress","i":4000,"r":0.0407}
]},
"layer":[
{"data":{"values":[{}]},"mark":{"type":"rect","fill":"#000000"},
 "encoding":{"x":{"datum":-2265,"type":"quantitative","axis":null,"scale":{"domain":[0,4500],"nice":false,"zero":false}},"x2":{"datum":5279},"y":{"datum":0.30,"type":"quantitative","axis":null,"scale":{"type":"log","domain":[0.0001,0.1],"nice":false}},"y2":{"datum":0.0000029}}},
{"data":{"values":[{}]},"mark":{"type":"rect","fill":"#000000","stroke":"#ffffff","strokeWidth":1},
 "encoding":{"x":{"datum":-2235,"type":"quantitative","axis":null},"x2":{"datum":-941},"y":{"datum":0.2806,"type":"quantitative","axis":null},"y2":{"datum":0.003565}}},
{"data":{"values":[{}]},"mark":{"type":"rect","fill":"#000000","stroke":"#ffffff","strokeWidth":1},
 "encoding":{"x":{"datum":-2235,"type":"quantitative","axis":null},"x2":{"datum":5243},"y":{"datum":0.0000123,"type":"quantitative","axis":null},"y2":{"datum":0.00000322}}},
{"mark":{"type":"line","strokeWidth":1.1,"clip":true},
 "encoding":{
  "x":{"field":"i","type":"quantitative","title":"Iterations",
   "axis":{"orient":"bottom","zindex":1,"values":[0,250,500,750,1000,1250,1500,1750,2000,2250,2500,2750,3000,3250,3500,3750,4000,4250,4500],"labelExpr":"datum.value % 500 == 0 ? '' + datum.value : ''","labelOverlap":false,"tickSize":-3,"labelPadding":10,"labelFontSize":9,"titleFontSize":10.5,"titlePadding":6,"labelFlush":false}},
  "y":{"field":"r","type":"quantitative",
   "axis":{"orient":"left","zindex":1,"title":null,"values":[0.1,0.0562,0.0316,0.01,0.00562,0.00316,0.001,0.00075,0.000562,0.000316,0.0001],"labelExpr":"abs(log(datum.value)/LN10 - round(log(datum.value)/LN10)) < 0.01 ? '1e-0' + (-round(log(datum.value)/LN10)) : ''","labelOverlap":false,"tickSize":-4,"labelPadding":15,"labelFontSize":10,"labelFlush":false}},
  "color":{"field":"s","type":"nominal",
   "scale":{"domain":["continuity","x-velocity","y-velocity","z-velocity","k","epsilon","uu-stress","vv-stress","ww-stress","uv-stress","vw-stress","uw-stress"],
            "range":["#ffffff","#ff0000","#00ff00","#0000ff","#00ffff","#ff00ff","#ffff00","#ff6600","#ff9999","#663300","#cc7700","#c00080"]},
   "legend":{"title":null,"orient":"none","legendX":-152,"legendY":-18,"symbolType":"stroke","symbolSize":324,"symbolStrokeWidth":1.2,"labelColor":"#ffffff","labelFont":"Liberation Sans","labelFontSize":11,"clipHeight":9.6,"rowPadding":-3.3,"padding":0,"labelOffset":1,"symbolOffset":0,"zindex":1}}
 }},
{"data":{"values":[{}]},"mark":{"type":"text","text":"fluent@chess_018.chess [0] Fluent Inc","align":"left","baseline":"middle","font":"Noto Sans","fontSize":15,"color":"#1a1a2a"},
 "encoding":{"x":{"datum":-1926,"type":"quantitative","axis":null},"y":{"datum":0.43,"type":"quantitative","axis":null}}},
{"data":{"values":[{}]},"mark":{"type":"text","text":"Residuals","align":"center","baseline":"middle","fontSize":11},
 "encoding":{"x":{"datum":-1588,"type":"quantitative","axis":null},"y":{"datum":0.2323,"type":"quantitative","axis":null}}},
{"data":{"values":[{}]},"mark":{"type":"text","text":"Scaled Residuals","align":"left","baseline":"middle","fontSize":10},
 "encoding":{"x":{"datum":-2132,"type":"quantitative","axis":null},"y":{"datum":0.0000065,"type":"quantitative","axis":null}}},
{"data":{"values":[{}]},"mark":{"type":"text","text":"Mar 30, 2011","align":"right","baseline":"middle","fontSize":10},
 "encoding":{"x":{"datum":5118,"type":"quantitative","axis":null},"y":{"datum":0.0000066,"type":"quantitative","axis":null}}},
{"data":{"values":[{}]},"mark":{"type":"text","text":"FLUENT 6.3 (3d, dp, pbns, RSM)","align":"right","baseline":"middle","fontSize":10},
 "encoding":{"x":{"datum":5118,"type":"quantitative","axis":null},"y":{"datum":0.0000047,"type":"quantitative","axis":null}}}
]
}
